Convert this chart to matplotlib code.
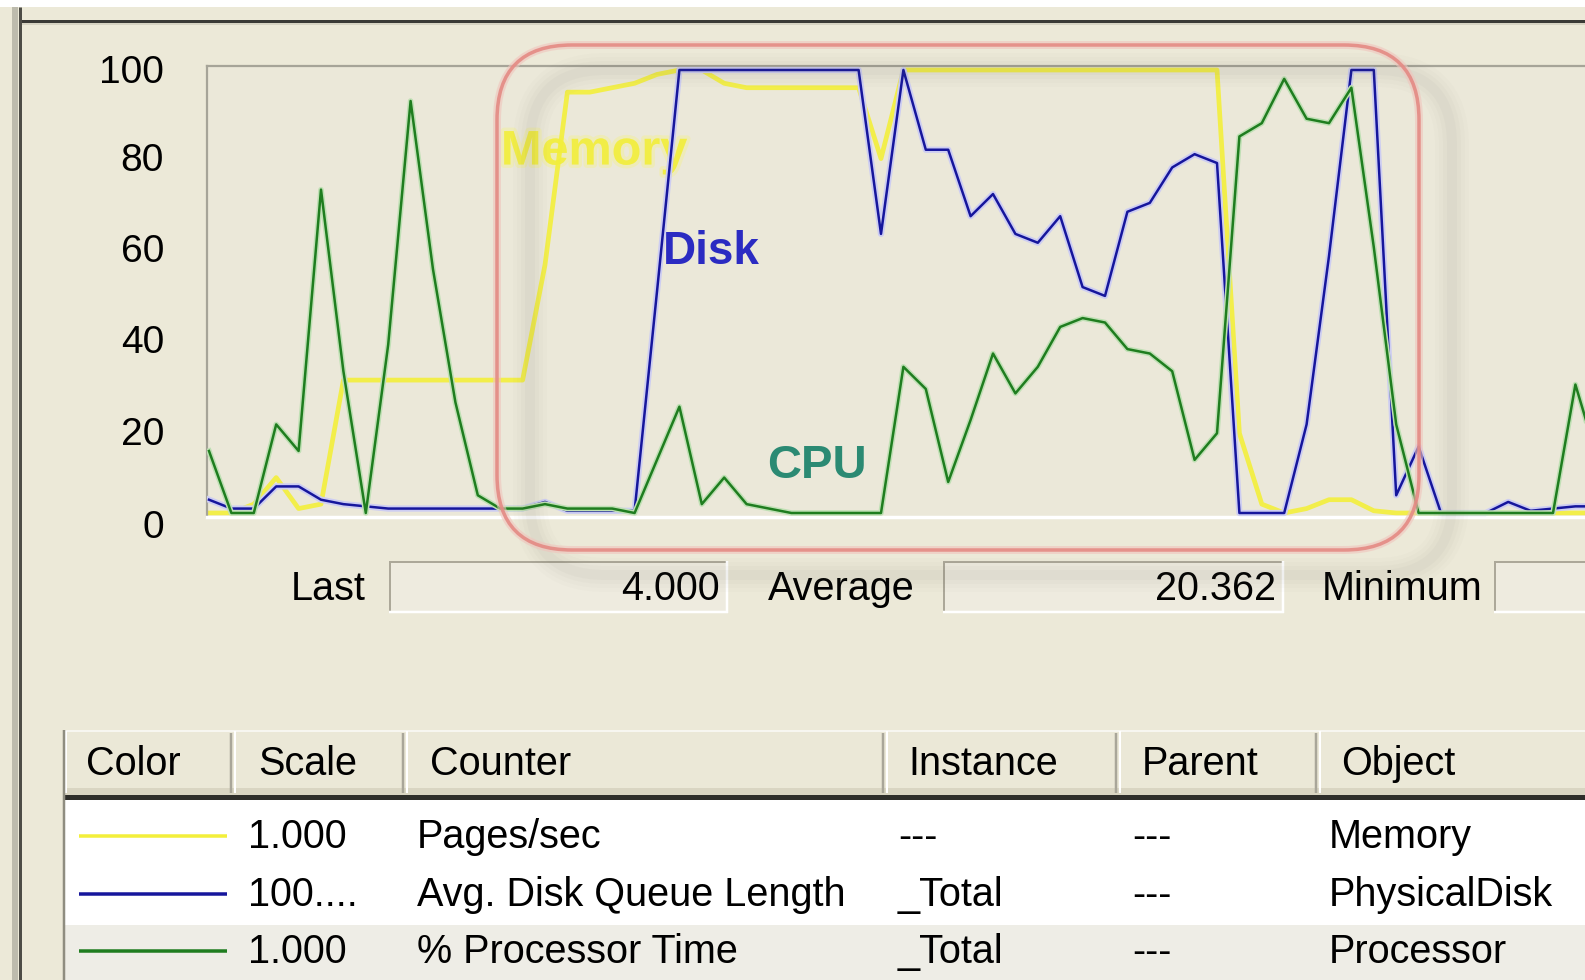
import matplotlib
matplotlib.use("Agg")
import matplotlib.pyplot as plt
from matplotlib.patches import Rectangle, FancyBboxPatch
from matplotlib.lines import Line2D
import matplotlib.transforms as mtransforms
import matplotlib.patheffects as pe

# ---------------- data ----------------
samples = list(range(63))
memory_pages = [0, 0, 2, 8, 1, 2, 30, 30, 30, 30, 30, 30, 30, 30, 30, 56, 95, 95, 96, 97,
                99, 100, 100, 97, 96, 96, 96, 96, 96, 96, 80, 100, 100, 100, 100, 100, 100, 100, 100, 100,
                100, 100, 100, 100, 100, 100, 18, 2, 0, 1, 3, 3, 0.5, 0, 0, 0, 0, 0, 0, 0,
                0, 0, 0]
disk_queue = [3, 1, 1, 6, 6, 3, 2, 1.5, 1, 1, 1, 1, 1, 1, 1, 2.5, 0.5, 0.5, 0.5, 0.5,
              50, 100, 100, 100, 100, 100, 100, 100, 100, 100, 63, 100, 82, 82, 67, 72, 63, 61, 67, 51,
              49, 68, 70, 78, 81, 79, 0, 0, 0, 20, 58, 100, 100, 4, 15, 0, 0, 0, 2.5, 0.5,
              1, 1.5, 1.5]
cpu_time = [14, 0, 0, 20, 14, 73, 32, 0, 38, 93, 55, 25, 4, 1, 1, 2, 1, 1, 1, 0,
            12, 24, 2, 8, 2, 1, 0, 0, 0, 0, 0, 33, 28, 7, 21, 36, 27, 33, 42, 44,
            43, 37, 36, 32, 12, 18, 85, 88, 98, 89, 88, 96, 60, 20, 0, 0, 0, 0, 0, 0,
            0, 29, 12]
y_ticks = [0, 20, 40, 60, 80, 100]
series_labels = ["Memory", "Disk", "CPU"]
stat_labels = ["Last", "Average", "Minimum"]
stat_values = ["4.000", "20.362", ""]
table_columns = ["Color", "Scale", "Counter", "Instance", "Parent", "Object"]
table_scales = ["1.000", "100....", "1.000"]
table_counters = ["Pages/sec", "Avg. Disk Queue Length", "% Processor Time"]
table_instances = ["---", "_Total", "_Total"]
table_parents = ["---", "---", "---"]
table_objects = ["Memory", "PhysicalDisk", "Processor"]
series_colors = ["#f3ef3a", "#16169c", "#1f7d1f"]

# ---------------- figure ----------------
W, H = 1585, 980
BG = "#ece9d8"
FONT = "Liberation Sans"
fig = plt.figure(figsize=(W / 100, H / 100), dpi=100, facecolor=BG)
PX = mtransforms.Affine2D().scale(1 / W, -1 / H).translate(0, 1) + fig.transFigure


def rect(x0, y0, x1, y1, color, z=1, **kw):
    fig.add_artist(Rectangle((x0, y0), x1 - x0, y1 - y0, transform=PX,
                             facecolor=color, edgecolor="none", zorder=z, **kw))


def line(xs, ys, color, lw, z=2):
    fig.add_artist(Line2D(xs, ys, transform=PX, color=color, lw=lw * 0.72,
                          zorder=z, solid_capstyle="butt"))


def text(x, y, s, ha="left", size=28, color="black", z=3, **kw):
    fig.text(x / W, 1 - y / H, s, ha=ha, va="center", fontsize=size,
             color=color, family=FONT, zorder=z, **kw)


# window chrome
rect(0, 0, W, 7, "white")
line([20, W], [21, 21], "#3a3a36", 3)
line([20, W], [24, 24], "#cfccbc", 1.5)
rect(12, 7, 18, H, "#bdbbad")
line([20, 20], [7, H], "#4d4c46", 3)

# ---------------- chart ----------------
ax_left, ax_right, ax_top, ax_bottom = 207, 1640, 66, 517
ax = fig.add_axes([ax_left / W, 1 - ax_bottom / H,
                   (ax_right - ax_left) / W, (ax_bottom - ax_top) / H])
ax.set_facecolor("#ebe8d9")
step, first = 22.4, 209
ax.set_xlim((ax_left - first) / step, (ax_right - first) / step)
unit, zero_px = 4.43, 513
ax.set_ylim(-(ax_bottom - zero_px) / unit, 100 + (70 - ax_top) / unit)
ax.set_xticks([])
ax.set_yticks(y_ticks)
ax.set_yticklabels([str(v) for v in y_ticks], family=FONT, fontsize=28)
ax.tick_params(axis="y", length=0, pad=31)
# the original labels drift slightly downward toward the bottom of the scale
label_shift_px = [11, 7, 3, 1, -2, -1]
for lab, d in zip(ax.get_yticklabels(), label_shift_px):
    lab.set_transform(lab.get_transform() +
                      mtransforms.ScaledTranslation(0, -d / 100, fig.dpi_scale_trans))
for s in ("top", "left"):
    ax.spines[s].set_color("#a6a498")
    ax.spines[s].set_linewidth(1.6)
ax.spines["bottom"].set_color("white")
ax.spines["bottom"].set_linewidth(2.5)
ax.spines["right"].set_visible(False)

ax.plot(samples, memory_pages, color=series_colors[0], lw=3.4, zorder=2, alpha=0.9)
ax.plot(samples, disk_queue, color=series_colors[1], lw=1.8, zorder=3,
        path_effects=[pe.Stroke(linewidth=4.5, foreground="#cdcdf2"), pe.Normal()])
ax.plot(samples, cpu_time, color=series_colors[2], lw=1.8, zorder=4,
        path_effects=[pe.Stroke(linewidth=4.0, foreground="#bfe0b4"), pe.Normal()])

# annotations
ax.text(594 / W, 1 - 152 / H, series_labels[0], transform=fig.transFigure, ha="center",
        va="center", fontsize=35, fontweight="bold", family=FONT, color="#f2ee3e",
        alpha=0.9, zorder=1.5,
        path_effects=[pe.Stroke(linewidth=5, foreground="#f4f08a", alpha=0.4), pe.Normal()])
text(711, 252, series_labels[1], ha="center", size=33, color="#2b2bc2", weight="bold", z=5)
text(817, 466, series_labels[2], ha="center", size=34, color="#2b8a73", weight="bold", z=5)

# highlight box with soft shadow
for lw, a in [(34, 0.015), (26, 0.02), (18, 0.025), (10, 0.03)]:
    fig.add_artist(FancyBboxPatch((530, 70), 922, 505,
                                  boxstyle="round,pad=0,rounding_size=75",
                                  transform=PX, fill=False, edgecolor="#5f5e52",
                                  lw=lw * 0.72, alpha=a, zorder=6))
fig.add_artist(FancyBboxPatch((497, 45), 922, 505,
                              boxstyle="round,pad=0,rounding_size=75",
                              transform=PX, fill=False, edgecolor="#f0c4bc",
                              lw=8 * 0.72, alpha=0.6, zorder=7))
fig.add_artist(FancyBboxPatch((497, 45), 922, 505,
                              boxstyle="round,pad=0,rounding_size=75",
                              transform=PX, fill=False, edgecolor="#e48a84",
                              lw=3.5 * 0.72, alpha=0.9, zorder=7))

# ---------------- statistics row ----------------
stat_label_pos = [(366, "right"), (768, "left"), (1322, "left")]
stat_boxes = [(389, 728), (943, 1284), (1494, 1620)]
for lab, (lx, lha), (bx0, bx1), val in zip(stat_labels, stat_label_pos, stat_boxes, stat_values):
    text(lx, 589, lab, ha=lha, size=28.5)
    rect(bx0, 561, bx1, 613, "#eeebdf", z=1)
    line([bx0, bx1], [562, 562], "#aca899", 2)
    line([bx0 + 1, bx0 + 1], [561, 613], "#aca899", 2)
    line([bx0, bx1], [612, 612], "white", 2.5)
    line([bx1 - 1, bx1 - 1], [561, 613], "white", 2.5)
    if val:
        text(bx1 - 8, 589, val, ha="right", size=28.5)

# ---------------- counter table ----------------
col_edges = [64, 233, 405, 885, 1118, 1318, 1620]
col_text_x = [86, 258, 430, 908, 1142, 1341]
for i, name in enumerate(table_columns):
    x0, x1 = col_edges[i], col_edges[i + 1]
    rect(x0, 730, x1, 795, "#ebe8d7", z=1)
    rect(x0, 788, x1, 795, "#d9d5c2", z=1.1)
    line([x0, x1], [731, 731], "#f7f6f0", 2)
    line([x0 + 2, x0 + 2], [731, 793], "white", 2)
    line([x1 - 2, x1 - 2], [733, 793], "#a9a699", 2.5)
    text(col_text_x[i], 764, name, size=28.5)
line([64, W], [797, 797], "#2e2e2a", 5)
rect(65, 800, W, 925, "white", z=1)
rect(65, 925, W, 980, "#eeede6", z=1)
line([64, 64], [730, 980], "#8f8d80", 2.5)

row_y = [837, 895, 952]
for k in range(3):
    y = row_y[k]
    line([79, 227], [y - 1, y - 1], series_colors[k], 3.5, z=2)
    text(248, y, table_scales[k], size=28.5)
    text(417, y, table_counters[k], size=28.5)
    text(898, y, table_instances[k], size=28.5)
    text(1132, y, table_parents[k], size=28.5)
    text(1329, y, table_objects[k], size=28.5)

fig.savefig("out.png", dpi=100, facecolor=BG)
